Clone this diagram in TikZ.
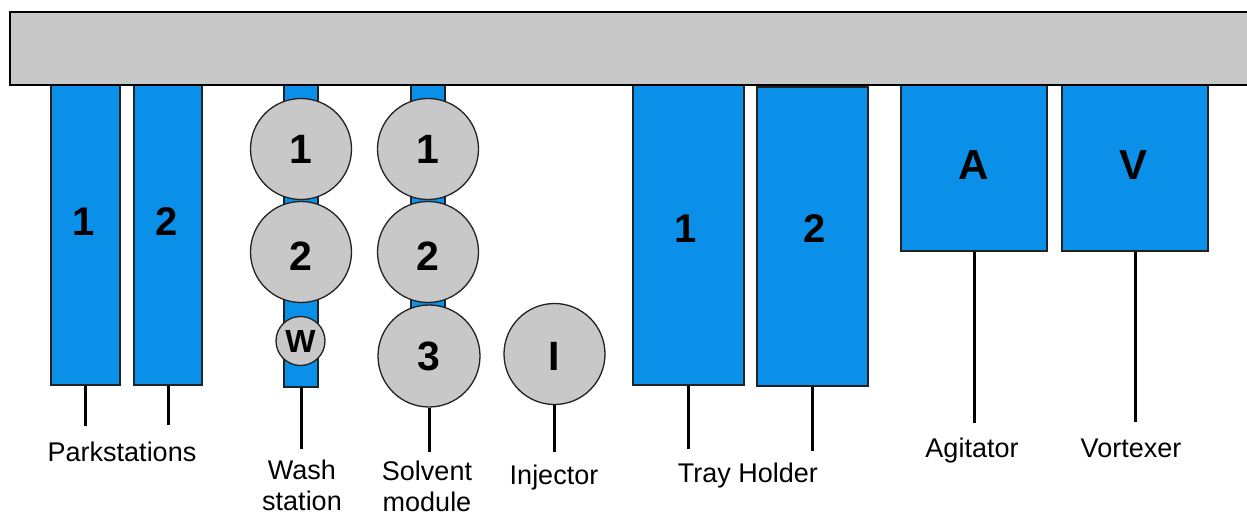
\documentclass[tikz,border=0pt]{standalone}
\usepackage{fontspec}
\setmainfont{Liberation Sans}
\definecolor{modblue}{RGB}{11,144,234}
\definecolor{railgrey}{RGB}{200,200,200}
\definecolor{edge}{RGB}{34,34,34}
\tikzset{
  blk/.style={draw=edge, fill=modblue, line width=1.3pt, inner sep=0pt, anchor=center},
  disc/.style={draw=edge, fill=railgrey, line width=1.3pt, circle, inner sep=0pt, font=\fontsize{41pt}{44pt}\selectfont\bfseries},
  num/.style={font=\fontsize{40pt}{44pt}\selectfont\bfseries, inner sep=0pt},
  lbl/.style={font=\fontsize{27pt}{31pt}\selectfont, inner sep=0pt, anchor=base, align=center},
  stem/.style={line width=3pt, draw=black}
}
\begin{document}
\begin{tikzpicture}[x=1pt,y=-1pt]
\useasboundingbox (0,0) rectangle (1247,513);
\clip (0,0) rectangle (1247,513);
\fill[white] (0,0) rectangle (1247,513);

% park stations
\node[blk, minimum width=69pt, minimum height=300pt] (ps1) at (85.5,235) {};
\node[blk, minimum width=68pt, minimum height=300pt] (ps2) at (168,235) {};
\node[num] (ps1n) at (84,222) {1};
\node[num] (ps2n) at (167,222) {2};

% wash station column
\node[blk, minimum width=34pt, minimum height=302pt] (wcol) at (301,236) {};
% solvent module column
\node[blk, minimum width=34pt, minimum height=275pt] (scol) at (428,222.5) {};

% tray holders
\node[blk, minimum width=111pt, minimum height=300pt] (th1) at (688.5,235) {};
\node[blk, minimum width=111pt, minimum height=299pt] (th2) at (812.5,236.5) {};
\node[num] (th1n) at (686,229) {1};
\node[num] (th2n) at (815,229) {2};

% agitator, vortexer
\node[blk, minimum width=146pt, minimum height=166pt] (ag) at (974,168) {};
\node[blk, minimum width=146pt, minimum height=166pt] (vo) at (1135,168) {};
\node[num, font=\fontsize{42pt}{46pt}\selectfont\bfseries] (agn) at (974,165) {A};
\node[num, font=\fontsize{42pt}{46pt}\selectfont\bfseries] (von) at (1133,165) {V};

% rail
\fill[railgrey] (10,12) rectangle (1260,85);
\draw[black, line width=1.8pt] (1260,12) -- (10,12) -- (10,85) -- (1260,85);

% discs
\node[disc, minimum size=101pt] (w1) at (301,149) {1};
\node[disc, minimum size=101pt] (w2) at (301,252) {};
\node[num, font=\fontsize{41pt}{44pt}\selectfont\bfseries] (w2n) at (301,256) {2};
\node[disc, minimum size=49pt, font=\fontsize{32pt}{35pt}\selectfont\bfseries] (ww) at (300.5,341) {W};
\node[disc, minimum size=101pt] (s1) at (428,149) {1};
\node[disc, minimum size=101pt] (s2) at (428,252) {};
\node[num, font=\fontsize{41pt}{44pt}\selectfont\bfseries] (s2n) at (428,256) {2};
\node[disc, minimum size=102pt] (s3) at (429,356) {3};
\node[disc, minimum size=101pt] (inj) at (554.5,354) {};
\node[num, font=\fontsize{41pt}{44pt}\selectfont\bfseries] (injn) at (554.5,356) {I};

% stem ends
\coordinate (e1) at (85.5,426);
\coordinate (e2) at (168,425);
\coordinate (ew) at (301,449);
\coordinate (es) at (429,452);
\coordinate (ei) at (554.5,452);
\coordinate (et1) at (688.5,449);
\coordinate (et2) at (812.5,451);
\coordinate (ea) at (974,423);
\coordinate (ev) at (1135,422);

\draw[stem] (ps1.south) -- (e1);
\draw[stem] (ps2.south) -- (e2);
\draw[stem] (wcol.south) -- (ew);
\draw[stem] (s3.south) -- (es);
\draw[stem] (inj.south) -- (ei);
\draw[stem] (th1.south) -- (et1);
\draw[stem] (th2.south) -- (et2);
\draw[stem] (ag.south) -- (ea);
\draw[stem] (vo.south) -- (ev);

% labels
\node[lbl] (lps) at (122,461) {Parkstations};
\node[lbl] (lw) at (302,510) {Wash\\station};
\node[lbl] (ls) at (427,511) {Solvent\\module};
\node[lbl] (li) at (554,484) {Injector};
\node[lbl] (lt) at (748,482) {Tray Holder};
\node[lbl] (la) at (972,457) {Agitator};
\node[lbl] (lv) at (1131,457) {Vortexer};
\end{tikzpicture}
\end{document}
